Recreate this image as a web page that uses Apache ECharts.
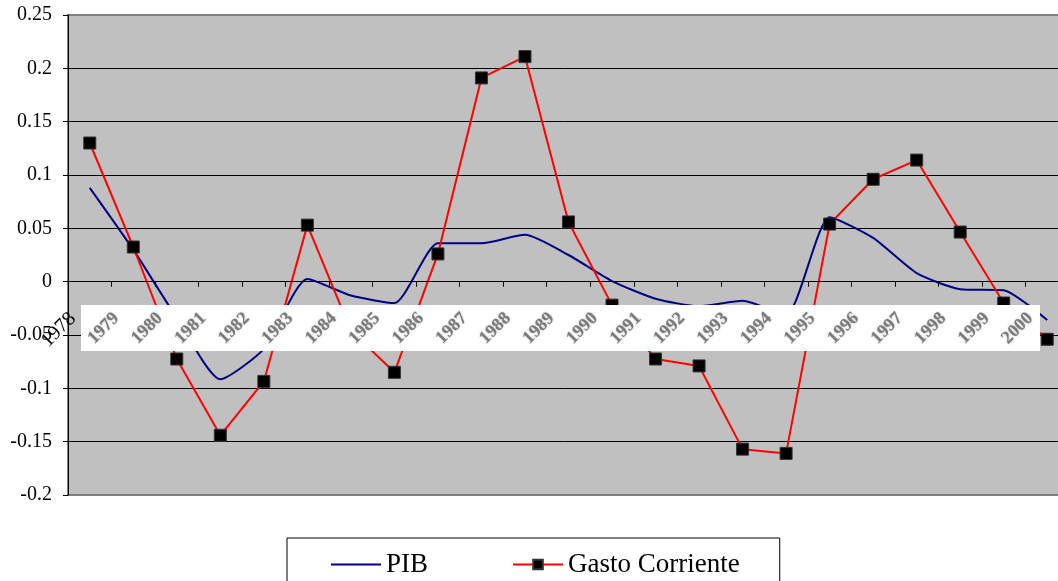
<!DOCTYPE html>
<html>
<head>
<meta charset="utf-8">
<script src="https://cdn.jsdelivr.net/npm/echarts@6/dist/echarts.min.js"></script>
<style>
  html, body { margin: 0; padding: 0; background: #fff; }
  #chart { width: 1058px; height: 581px; }
</style>
</head>
<body>
<div id="chart"></div>
<script>
const years = ['1978', '1979', '1980', '1981', '1982', '1983', '1984', '1985', '1986', '1987', '1988',
  '1989', '1990', '1991', '1992', '1993', '1994', '1995', '1996', '1997', '1998', '1999', '2000']

// PIB
const pib = [0.088, 0.030, -0.034, -0.0915, -0.063, 0.0025, -0.013, -0.020, 0.036, 0.036, 0.044,
  0.025, 0.0005, -0.016, -0.023, -0.018, -0.031, 0.0605, 0.041, 0.008, -0.007, -0.008, -0.036]

// Gasto Corriente
const gasto = [0.130, 0.0325, -0.0725, -0.144, -0.0935, 0.053, -0.046, -0.085, 0.026, 0.191, 0.211,
  0.056, -0.022, -0.0725, -0.079, -0.157, -0.161, 0.054, 0.096, 0.114, 0.0465, -0.020, -0.054]

const yTicks = [-0.2, -0.15, -0.1, -0.05, 0, 0.05, 0.1, 0.15, 0.2, 0.25]

const serif = 'Liberation Serif'
const chart = echarts.init(document.getElementById('chart'))

// 网格线：上下两条为灰色边框
const gridColors = yTicks.map((v, i) => (i === 0 || i === yTicks.length - 1) ? '#808080' : '#000000')

// 绘图区高度 480，x 轴放到 0 的位置
const zeroOffset = -480 * (0 - yTicks[0]) / (yTicks[yTicks.length - 1] - yTicks[0])

chart.setOption({
  animation: false,
  grid: {
    left: 68, top: 15, right: -11, bottom: 86,
    outerBoundsMode: 'none',
    show: true, backgroundColor: '#C0C0C0', borderColor: '#808080', borderWidth: 2
  },
  xAxis: {
    type: 'category',
    data: years,
    z: 10,
    offset: zeroOffset,
    axisLine: { onZero: false, lineStyle: { color: '#000', width: 1 } },
    axisTick: { show: true, length: 5, lineStyle: { color: '#000' } },
    axisLabel: {
      interval: 0,
      rotate: 45,
      margin: 17,
      padding: [0, 24, 0, 0],
      formatter: (v, i) => i === 0 ? `{a|${v}}` : `{b|${v}}`,
      rich: {
        a: { fontFamily: serif, fontSize: 20, color: '#000' },
        b: {
          fontFamily: serif, fontSize: 18, fontWeight: 'bold', color: '#7a7a7a',
          textShadowColor: 'rgba(120,120,120,0.6)', textShadowBlur: 2
        }
      }
    },
    splitLine: { show: false }
  },
  yAxis: {
    type: 'value',
    min: -0.2, max: 0.25, interval: 0.05,
    z: 1,
    axisLine: { show: true, lineStyle: { color: '#000', width: 1 } },
    axisTick: { show: true, length: 5, lineStyle: { color: '#000' } },
    axisLabel: {
      margin: 16, fontFamily: serif, fontSize: 20, color: '#000',
      formatter: v => String(Math.round(v * 100) / 100)
    },
    splitLine: { show: true, lineStyle: { color: gridColors, width: 1 } }
  },
  legend: {
    left: 287, top: 538,
    padding: [13, 40, 20, 43],
    borderColor: '#000', borderWidth: 1,
    itemWidth: 50, itemHeight: 12, itemGap: 84,
    textStyle: { fontFamily: serif, fontSize: 27, color: '#000' },
    data: [{ name: 'PIB', itemStyle: { opacity: 0 } }, 'Gasto Corriente']
  },
  graphic: [{
    type: 'rect', z: 5,
    shape: { x: 81, y: 305, width: 959, height: 46 },
    style: { fill: '#ffffff' }
  }],
  series: [
    {
      name: 'PIB', type: 'line', data: pib, z: 3,
      smooth: 0.2, symbol: 'none',
      lineStyle: { color: '#000080', width: 2 },
      itemStyle: { color: '#000080' }
    },
    {
      name: 'Gasto Corriente', type: 'line', data: gasto, z: 4,
      symbol: 'rect', symbolSize: 12,
      lineStyle: { color: '#FF0000', width: 2 },
      itemStyle: { color: '#000000', borderColor: '#333', borderWidth: 1 }
    }
  ]
})
</script>
</body>
</html>
